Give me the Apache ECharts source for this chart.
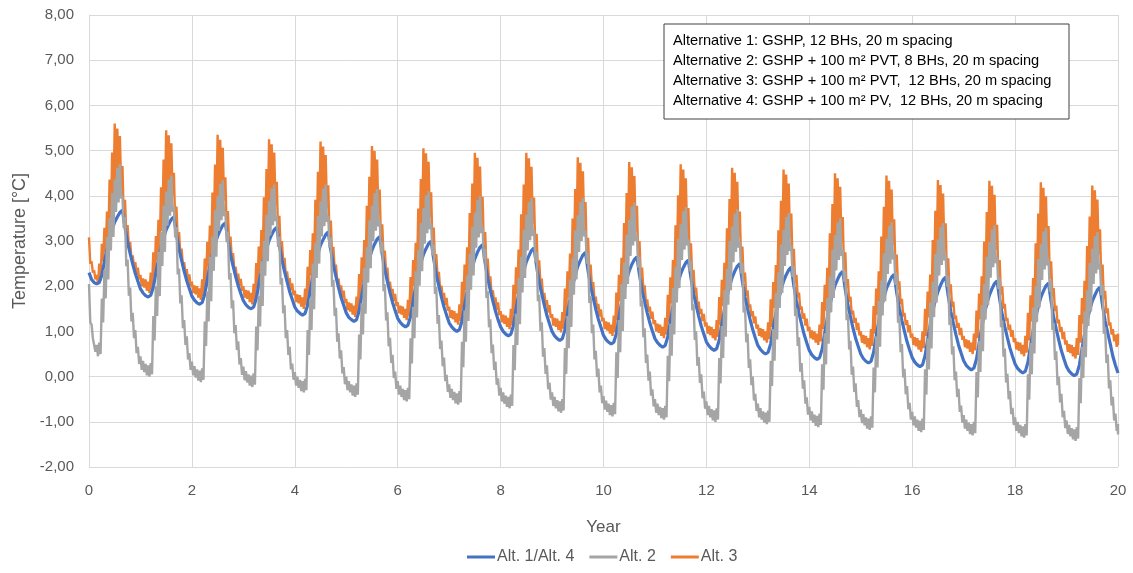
<!DOCTYPE html>
<html>
<head>
<meta charset="utf-8">
<title>Borehole fluid temperature, 20 years</title>
<script src="https://cdn.jsdelivr.net/npm/echarts@6/dist/echarts.min.js"></script>
<style>
  html, body { margin: 0; padding: 0; background: #ffffff; }
  #chart { width: 1133px; height: 573px; }
</style>
</head>
<body>
<div id="chart"></div>
<script>
// Sampling step along the time axis (years); 20 samples per simulated year.
const STEP = 0.05;

// Year axis ticks
const yearTicks = [0, 2, 4, 6, 8, 10, 12, 14, 16, 18, 20];

// Series names
const seriesNames = ['Alt. 1/Alt. 4', 'Alt. 2', 'Alt. 3'];

// Alt. 1/Alt. 4 temperature [°C], one row per year
const alt14Years = [
  [2.30,2.15,2.08,2.05,2.08,2.25,2.54,2.82,3.06,3.26,3.42,3.53,3.63,3.68,3.30,2.97,2.72,2.49,2.28,2.11],
  [1.94,1.85,1.79,1.76,1.80,1.97,2.29,2.59,2.86,3.07,3.25,3.37,3.48,3.53,3.14,2.82,2.57,2.33,2.12,1.95],
  [1.78,1.69,1.63,1.60,1.64,1.82,2.14,2.45,2.72,2.93,3.11,3.24,3.35,3.40,3.02,2.70,2.45,2.22,2.01,1.84],
  [1.68,1.59,1.53,1.50,1.54,1.72,2.04,2.35,2.62,2.83,3.01,3.14,3.25,3.30,2.91,2.58,2.33,2.10,1.88,1.71],
  [1.54,1.45,1.40,1.36,1.40,1.58,1.91,2.22,2.50,2.72,2.91,3.03,3.14,3.20,2.80,2.47,2.21,1.97,1.75,1.58],
  [1.41,1.31,1.26,1.22,1.26,1.45,1.78,2.10,2.39,2.61,2.80,2.93,3.04,3.10,2.70,2.36,2.10,1.86,1.64,1.46],
  [1.29,1.20,1.14,1.10,1.14,1.33,1.67,1.99,2.28,2.51,2.70,2.83,2.94,3.00,2.60,2.26,2.00,1.76,1.54,1.36],
  [1.19,1.10,1.04,1.00,1.04,1.23,1.58,1.90,2.19,2.42,2.61,2.75,2.86,2.92,2.52,2.17,1.91,1.67,1.45,1.26],
  [1.10,1.00,0.94,0.90,0.94,1.13,1.49,1.82,2.11,2.34,2.54,2.67,2.79,2.85,2.44,2.09,1.83,1.58,1.35,1.17],
  [1.00,0.90,0.84,0.80,0.84,1.03,1.39,1.72,2.01,2.24,2.44,2.57,2.69,2.75,2.34,2.00,1.74,1.49,1.27,1.09],
  [0.91,0.82,0.76,0.72,0.76,0.95,1.30,1.63,1.92,2.15,2.34,2.48,2.59,2.65,2.25,1.91,1.65,1.41,1.19,1.01],
  [0.84,0.75,0.69,0.65,0.69,0.88,1.23,1.56,1.85,2.08,2.27,2.41,2.52,2.58,2.18,1.84,1.58,1.34,1.12,0.94],
  [0.77,0.68,0.62,0.58,0.62,0.81,1.16,1.48,1.77,2.00,2.19,2.33,2.44,2.50,2.10,1.76,1.50,1.26,1.04,0.86],
  [0.69,0.60,0.54,0.50,0.54,0.73,1.08,1.40,1.69,1.92,2.11,2.25,2.36,2.42,2.01,1.67,1.40,1.16,0.93,0.75],
  [0.58,0.48,0.42,0.38,0.42,0.61,0.97,1.30,1.59,1.82,2.02,2.15,2.27,2.33,1.92,1.58,1.32,1.07,0.85,0.67],
  [0.50,0.40,0.34,0.30,0.34,0.54,0.89,1.22,1.52,1.75,1.95,2.08,2.20,2.26,1.85,1.51,1.24,1.00,0.77,0.59],
  [0.42,0.32,0.26,0.22,0.26,0.46,0.81,1.15,1.45,1.69,1.88,2.02,2.14,2.20,1.79,1.44,1.18,0.93,0.70,0.52],
  [0.35,0.25,0.19,0.15,0.19,0.39,0.74,1.08,1.37,1.61,1.80,1.94,2.06,2.12,1.71,1.37,1.10,0.86,0.63,0.45],
  [0.28,0.18,0.12,0.08,0.12,0.32,0.68,1.02,1.31,1.55,1.75,1.89,2.01,2.07,1.66,1.31,1.05,0.80,0.57,0.39],
  [0.22,0.12,0.06,0.02,0.06,0.26,0.61,0.94,1.24,1.47,1.67,1.80,1.92,1.98,1.57,1.23,0.97,0.72,0.45,0.25]
];
const alt14End = 0.08;

// Alt. 2 temperature [°C]: upper and lower edge of the short-term swings, one row per year
const alt2Upper = [
  [2.05,1.15,0.85,0.70,0.75,1.73,2.36,3.09,3.51,4.06,4.36,4.62,4.70,4.00,3.53,2.59,1.97,1.41,1.03,0.66],
  [0.45,0.35,0.28,0.25,0.30,1.34,2.00,2.76,3.20,3.78,4.09,4.36,4.45,3.76,3.31,2.39,1.80,1.25,0.89,0.52],
  [0.33,0.23,0.16,0.13,0.18,1.22,1.89,2.65,3.10,3.68,3.99,4.26,4.35,3.66,3.21,2.29,1.69,1.14,0.78,0.41],
  [0.22,0.12,0.05,0.02,0.07,1.11,1.79,2.55,3.00,3.58,3.89,4.16,4.25,3.56,3.10,2.18,1.58,1.03,0.66,0.29],
  [0.10,0.00,-0.07,-0.10,-0.05,1.03,1.72,2.50,2.96,3.56,3.88,4.16,4.25,3.55,3.08,2.14,1.52,0.96,0.58,0.21],
  [0.00,-0.10,-0.17,-0.20,-0.15,0.93,1.62,2.40,2.86,3.46,3.78,4.06,4.15,3.45,2.98,2.04,1.42,0.86,0.48,0.11],
  [-0.10,-0.20,-0.27,-0.30,-0.25,0.85,1.54,2.33,2.80,3.40,3.73,4.01,4.10,3.39,2.92,1.98,1.36,0.80,0.42,0.04],
  [-0.17,-0.27,-0.34,-0.37,-0.32,0.77,1.46,2.24,2.71,3.31,3.63,3.91,4.00,3.30,2.83,1.89,1.27,0.71,0.33,-0.04],
  [-0.25,-0.35,-0.42,-0.45,-0.40,0.70,1.39,2.18,2.65,3.25,3.58,3.86,3.95,3.24,2.76,1.81,1.20,0.63,0.25,-0.13],
  [-0.35,-0.45,-0.52,-0.55,-0.50,0.63,1.34,2.15,2.62,3.24,3.57,3.86,3.95,3.23,2.74,1.78,1.15,0.57,0.18,-0.20],
  [-0.43,-0.53,-0.60,-0.63,-0.58,0.54,1.25,2.05,2.53,3.14,3.47,3.76,3.85,3.13,2.65,1.69,1.07,0.49,0.11,-0.28],
  [-0.50,-0.60,-0.67,-0.70,-0.65,0.46,1.17,1.96,2.43,3.05,3.37,3.66,3.75,3.04,2.56,1.61,1.00,0.43,0.05,-0.33],
  [-0.55,-0.65,-0.72,-0.75,-0.70,0.41,1.12,1.91,2.38,3.00,3.32,3.61,3.70,2.99,2.51,1.56,0.95,0.38,0.00,-0.38],
  [-0.60,-0.70,-0.77,-0.80,-0.75,0.35,1.05,1.85,2.31,2.92,3.25,3.53,3.62,2.91,2.44,1.49,0.87,0.30,-0.08,-0.46],
  [-0.67,-0.77,-0.84,-0.87,-0.82,0.27,0.96,1.74,2.21,2.81,3.13,3.41,3.50,2.80,2.33,1.39,0.79,0.22,-0.15,-0.52],
  [-0.73,-0.83,-0.90,-0.93,-0.88,0.20,0.89,1.67,2.13,2.73,3.05,3.33,3.42,2.72,2.26,1.33,0.72,0.17,-0.21,-0.58],
  [-0.78,-0.88,-0.95,-0.98,-0.93,0.16,0.85,1.64,2.10,2.71,3.03,3.31,3.40,2.70,2.23,1.29,0.67,0.11,-0.27,-0.64],
  [-0.85,-0.95,-1.02,-1.05,-1.00,0.10,0.79,1.58,2.05,2.65,2.98,3.26,3.35,2.65,2.18,1.24,0.62,0.06,-0.32,-0.69],
  [-0.90,-1.00,-1.07,-1.10,-1.05,0.05,0.74,1.53,2.00,2.60,2.93,3.21,3.30,2.59,2.12,1.18,0.56,0.00,-0.38,-0.76],
  [-0.97,-1.07,-1.14,-1.17,-1.12,-0.03,0.66,1.44,1.91,2.51,2.83,3.11,3.20,2.50,2.03,1.09,0.49,-0.08,-0.45,-0.82]
];
const alt2Lower = [
  [1.20,0.85,0.55,0.45,0.50,1.20,1.73,2.15,2.79,3.09,3.64,3.85,3.94,3.29,2.44,1.79,1.22,0.85,0.52,0.28],
  [0.15,0.10,0.03,0.00,0.05,0.80,1.34,1.78,2.45,2.76,3.34,3.56,3.65,3.08,2.26,1.62,1.07,0.70,0.38,0.15],
  [0.03,-0.02,-0.09,-0.12,-0.07,0.68,1.22,1.67,2.34,2.65,3.23,3.46,3.55,2.98,2.15,1.51,0.96,0.59,0.27,0.04],
  [-0.08,-0.13,-0.20,-0.23,-0.18,0.58,1.11,1.56,2.23,2.55,3.13,3.35,3.44,2.87,2.04,1.40,0.85,0.48,0.16,-0.07],
  [-0.20,-0.25,-0.32,-0.35,-0.30,0.48,1.03,1.49,2.18,2.50,3.10,3.33,3.42,2.84,1.99,1.34,0.77,0.40,0.07,-0.17],
  [-0.30,-0.35,-0.42,-0.45,-0.40,0.38,0.93,1.39,2.08,2.40,3.00,3.23,3.32,2.74,1.89,1.24,0.67,0.30,-0.03,-0.27],
  [-0.40,-0.45,-0.52,-0.55,-0.50,0.29,0.85,1.31,2.01,2.33,2.94,3.17,3.26,2.68,1.83,1.17,0.61,0.23,-0.10,-0.34],
  [-0.47,-0.52,-0.59,-0.62,-0.57,0.21,0.77,1.23,1.92,2.24,2.85,3.08,3.17,2.59,1.74,1.09,0.52,0.15,-0.18,-0.42],
  [-0.55,-0.60,-0.67,-0.70,-0.65,0.14,0.70,1.16,1.86,2.18,2.79,3.02,3.11,2.53,1.67,1.01,0.44,0.06,-0.28,-0.51],
  [-0.65,-0.70,-0.77,-0.80,-0.75,0.06,0.63,1.10,1.81,2.15,2.76,3.00,3.10,2.50,1.63,0.96,0.38,-0.01,-0.35,-0.59],
  [-0.73,-0.78,-0.85,-0.88,-0.83,-0.03,0.54,1.01,1.72,2.05,2.67,2.90,3.00,2.41,1.55,0.87,0.30,-0.09,-0.42,-0.66],
  [-0.80,-0.85,-0.92,-0.95,-0.90,-0.10,0.46,0.93,1.64,1.96,2.58,2.81,2.90,2.33,1.47,0.81,0.24,-0.14,-0.48,-0.71],
  [-0.85,-0.90,-0.97,-1.00,-0.95,-0.15,0.41,0.88,1.59,1.91,2.53,2.76,2.85,2.28,1.42,0.76,0.19,-0.19,-0.53,-0.76],
  [-0.90,-0.95,-1.02,-1.05,-1.00,-0.21,0.35,0.82,1.52,1.85,2.45,2.69,2.78,2.20,1.34,0.68,0.11,-0.27,-0.60,-0.84],
  [-0.97,-1.02,-1.09,-1.12,-1.07,-0.29,0.27,0.73,1.42,1.74,2.35,2.58,2.67,2.10,1.25,0.60,0.04,-0.34,-0.67,-0.90],
  [-1.03,-1.08,-1.15,-1.18,-1.13,-0.35,0.20,0.66,1.35,1.67,2.27,2.50,2.59,2.03,1.19,0.54,-0.02,-0.39,-0.72,-0.95],
  [-1.08,-1.13,-1.20,-1.23,-1.18,-0.40,0.16,0.62,1.32,1.64,2.24,2.47,2.57,1.99,1.14,0.49,-0.08,-0.45,-0.78,-1.02],
  [-1.15,-1.20,-1.27,-1.30,-1.25,-0.46,0.10,0.56,1.26,1.58,2.19,2.42,2.51,1.94,1.09,0.44,-0.13,-0.50,-0.83,-1.07],
  [-1.20,-1.25,-1.32,-1.35,-1.30,-0.51,0.05,0.51,1.21,1.53,2.14,2.37,2.46,1.88,1.03,0.37,-0.19,-0.57,-0.90,-1.14],
  [-1.27,-1.32,-1.39,-1.42,-1.37,-0.59,-0.03,0.43,1.12,1.44,2.05,2.28,2.37,1.80,0.95,0.30,-0.26,-0.64,-0.97,-1.20]
];
const alt2End = [-1.05, -1.28];

// Alt. 3 temperature [°C]: upper and lower edge of the short-term swings, one row per year
const alt3Upper = [
  [3.08,2.55,2.35,2.25,2.50,2.94,3.29,3.65,4.36,4.96,5.60,5.49,5.32,4.66,3.91,3.35,2.98,2.68,2.53,2.41],
  [2.25,2.17,2.15,2.10,2.30,2.75,3.11,3.47,4.19,4.80,5.45,5.34,5.16,4.51,3.76,3.20,2.83,2.53,2.38,2.26],
  [2.10,2.02,2.00,1.95,2.15,2.61,2.98,3.34,4.07,4.69,5.35,5.24,5.06,4.41,3.66,3.10,2.73,2.43,2.28,2.16],
  [2.00,1.92,1.90,1.85,2.05,2.51,2.88,3.24,3.97,4.59,5.25,5.14,4.96,4.31,3.56,3.00,2.63,2.33,2.18,2.06],
  [1.90,1.82,1.80,1.75,1.95,2.43,2.80,3.17,3.91,4.53,5.20,5.09,4.90,4.23,3.45,2.87,2.48,2.17,2.02,1.90],
  [1.72,1.64,1.62,1.57,1.77,2.27,2.64,3.02,3.78,4.42,5.10,4.99,4.80,4.14,3.37,2.79,2.41,2.10,1.94,1.83],
  [1.65,1.57,1.55,1.50,1.70,2.20,2.58,2.96,3.72,4.37,5.05,4.94,4.75,4.08,3.30,2.71,2.32,2.01,1.85,1.74],
  [1.55,1.47,1.45,1.40,1.60,2.10,2.48,2.86,3.62,4.27,4.95,4.84,4.65,3.98,3.20,2.61,2.22,1.91,1.75,1.64],
  [1.45,1.37,1.35,1.30,1.50,2.03,2.42,2.81,3.59,4.25,4.95,4.83,4.64,3.96,3.16,2.57,2.17,1.85,1.69,1.58],
  [1.38,1.30,1.28,1.23,1.43,1.95,2.33,2.72,3.50,4.15,4.85,4.73,4.54,3.86,3.07,2.48,2.09,1.77,1.61,1.49],
  [1.30,1.22,1.20,1.15,1.35,1.86,2.25,2.63,3.40,4.06,4.75,4.63,4.44,3.78,3.00,2.41,2.02,1.71,1.55,1.44],
  [1.25,1.17,1.15,1.10,1.30,1.81,2.20,2.58,3.35,4.01,4.70,4.58,4.39,3.73,2.95,2.36,1.97,1.66,1.50,1.39],
  [1.20,1.12,1.10,1.05,1.25,1.76,2.14,2.52,3.28,3.93,4.62,4.51,4.31,3.65,2.88,2.30,1.91,1.60,1.45,1.33],
  [1.15,1.07,1.05,1.00,1.20,1.71,2.09,2.47,3.24,3.89,4.58,4.47,4.27,3.61,2.83,2.25,1.86,1.55,1.40,1.28],
  [1.10,1.02,1.00,0.95,1.15,1.65,2.03,2.41,3.17,3.82,4.50,4.39,4.20,3.53,2.75,2.16,1.77,1.46,1.30,1.19],
  [1.00,0.92,0.90,0.85,1.05,1.56,1.95,2.33,3.10,3.76,4.45,4.33,4.14,3.48,2.70,2.11,1.72,1.41,1.25,1.14],
  [0.95,0.87,0.85,0.80,1.00,1.50,1.88,2.26,3.02,3.67,4.35,4.24,4.05,3.39,2.62,2.04,1.66,1.35,1.19,1.08],
  [0.90,0.82,0.80,0.75,0.95,1.46,1.84,2.22,2.99,3.64,4.33,4.22,4.02,3.36,2.58,2.00,1.61,1.30,1.15,1.03],
  [0.85,0.77,0.75,0.70,0.90,1.41,1.80,2.18,2.95,3.61,4.30,4.18,3.99,3.33,2.55,1.96,1.57,1.26,1.10,0.99],
  [0.80,0.72,0.70,0.65,0.85,1.36,1.74,2.12,2.89,3.54,4.23,4.12,3.92,3.26,2.48,1.90,1.51,1.20,1.05,0.93]
];
const alt3Lower = [
  [2.50,2.30,2.15,2.05,2.12,2.55,2.76,2.94,3.40,3.83,4.25,4.46,4.18,3.54,3.16,2.86,2.60,2.41,2.26,2.15],
  [2.00,1.97,1.90,1.85,1.93,2.20,2.57,2.75,3.22,3.65,4.08,4.30,4.01,3.39,3.01,2.71,2.45,2.26,2.11,2.00],
  [1.85,1.82,1.75,1.70,1.78,2.05,2.43,2.61,3.09,3.53,3.96,4.18,3.89,3.29,2.91,2.61,2.35,2.16,2.01,1.90],
  [1.75,1.72,1.65,1.60,1.68,1.95,2.33,2.51,2.99,3.43,3.86,4.08,3.79,3.19,2.81,2.51,2.25,2.06,1.91,1.80],
  [1.65,1.62,1.55,1.50,1.58,1.85,2.24,2.43,2.91,3.35,3.79,4.02,3.72,3.07,2.68,2.37,2.10,1.90,1.75,1.63],
  [1.47,1.44,1.37,1.32,1.40,1.67,2.08,2.27,2.76,3.21,3.66,3.89,3.59,2.98,2.60,2.29,2.02,1.83,1.67,1.56],
  [1.40,1.37,1.30,1.25,1.33,1.60,2.01,2.20,2.69,3.15,3.61,3.83,3.53,2.91,2.52,2.20,1.93,1.74,1.58,1.46],
  [1.30,1.27,1.20,1.15,1.23,1.50,1.91,2.10,2.59,3.05,3.51,3.73,3.43,2.81,2.42,2.10,1.83,1.64,1.48,1.36],
  [1.20,1.17,1.10,1.05,1.13,1.40,1.83,2.03,2.53,3.00,3.47,3.70,3.39,2.77,2.37,2.05,1.77,1.58,1.42,1.30],
  [1.13,1.10,1.03,0.98,1.06,1.33,1.75,1.95,2.45,2.92,3.38,3.61,3.30,2.68,2.28,1.97,1.69,1.49,1.33,1.22],
  [1.05,1.02,0.95,0.90,0.98,1.25,1.67,1.86,2.36,2.83,3.29,3.52,3.21,2.61,2.22,1.90,1.63,1.44,1.28,1.16],
  [1.00,0.97,0.90,0.85,0.93,1.20,1.62,1.81,2.31,2.78,3.24,3.47,3.16,2.56,2.17,1.85,1.58,1.39,1.23,1.11],
  [0.95,0.92,0.85,0.80,0.88,1.15,1.56,1.76,2.25,2.71,3.17,3.40,3.09,2.49,2.10,1.79,1.52,1.33,1.18,1.06],
  [0.90,0.87,0.80,0.75,0.83,1.10,1.52,1.71,2.21,2.67,3.12,3.35,3.05,2.45,2.06,1.75,1.48,1.28,1.13,1.01],
  [0.85,0.82,0.75,0.70,0.78,1.05,1.46,1.65,2.14,2.60,3.06,3.28,2.98,2.36,1.97,1.65,1.38,1.19,1.03,0.91],
  [0.75,0.72,0.65,0.60,0.68,0.95,1.37,1.56,2.06,2.53,2.99,3.22,2.91,2.31,1.92,1.60,1.33,1.14,0.98,0.86],
  [0.70,0.67,0.60,0.55,0.63,0.90,1.31,1.50,1.99,2.45,2.91,3.13,2.83,2.23,1.85,1.54,1.27,1.08,0.92,0.81],
  [0.65,0.62,0.55,0.50,0.58,0.85,1.27,1.46,1.96,2.42,2.87,3.10,2.80,2.20,1.81,1.50,1.23,1.03,0.88,0.76],
  [0.60,0.57,0.50,0.45,0.53,0.80,1.22,1.41,1.91,2.38,2.84,3.07,2.76,2.16,1.77,1.45,1.18,0.99,0.83,0.71],
  [0.55,0.52,0.45,0.40,0.48,0.75,1.17,1.36,1.86,2.32,2.77,3.00,2.70,2.10,1.71,1.40,1.13,0.93,0.78,0.66]
];
const alt3End = [0.95, 0.70];

// Text of the description box
const boxLines = [
  'Alternative 1: GSHP, 12 BHs, 20 m spacing',
  'Alternative 2: GSHP + 100 m² PVT, 8 BHs, 20 m spacing',
  'Alternative 3: GSHP + 100 m² PVT,  12 BHs, 20 m spacing',
  'Alternative 4: GSHP + 100 m² PV,  12 BHs, 20 m spacing'
];

// Yearly rows -> [year, value] pairs on the shared time grid.
function toPairs(rows, endValue) {
  const flat = rows.flat().concat([endValue]);
  return flat.map((v, i) => [+(i * STEP).toFixed(3), v]);
}

// Upper/lower rows -> one jagged trace that swings between the two edges
// every half step, the way the hourly record does.
function toSwing(upperRows, lowerRows, endPair) {
  const up = upperRows.flat().concat([endPair[0]]);
  const lo = lowerRows.flat().concat([endPair[1]]);
  const out = [];
  const last = up.length - 1;
  for (let i = 0; i <= last; i++) {
    const t = i * STEP;
    out.push([+t.toFixed(3), up[i]]);
    out.push([+(i === last ? t : t + STEP / 2).toFixed(3), lo[i]]);
  }
  return out;
}

const FONT = '"Liberation Sans", Arial, sans-serif';
const TEXT_GREY = '#595959';
const GRID_GREY = '#d9d9d9';

const chart = echarts.init(document.getElementById('chart'), null, { renderer: 'canvas' });

const boxLeft = 664, boxTop = 24, boxW = 405, boxH = 95;

chart.setOption({
  animation: false,
  backgroundColor: '#ffffff',
  textStyle: { fontFamily: FONT },
  grid: { left: 89, right: 15, top: 15, bottom: 106, containLabel: false },
  xAxis: {
    type: 'value',
    min: yearTicks[0],
    max: yearTicks[yearTicks.length - 1],
    interval: 2,
    name: 'Year',
    nameLocation: 'middle',
    nameGap: 52,
    nameTextStyle: { color: TEXT_GREY, fontSize: 17, fontFamily: FONT },
    axisLine: { show: true, lineStyle: { color: GRID_GREY, width: 1 } },
    axisTick: { show: false },
    axisLabel: { color: TEXT_GREY, fontSize: 15, margin: 16, fontFamily: FONT },
    splitLine: { show: true, lineStyle: { color: GRID_GREY, width: 1 } }
  },
  yAxis: {
    type: 'value',
    min: -2,
    max: 8,
    interval: 1,
    name: 'Temperature [°C]',
    nameLocation: 'middle',
    nameGap: 57,
    nameTextStyle: { color: TEXT_GREY, fontSize: 18, fontFamily: FONT },
    axisLine: { show: true, lineStyle: { color: GRID_GREY, width: 1 } },
    axisTick: { show: false },
    axisLabel: {
      color: TEXT_GREY, fontSize: 15, margin: 15, fontFamily: FONT,
      formatter: v => v.toFixed(2).replace('.', ',')
    },
    splitLine: { show: true, lineStyle: { color: GRID_GREY, width: 1 } }
  },
  legend: {
    top: 549,
    left: 467,
    padding: 0,
    icon: 'rect',
    itemWidth: 28,
    itemHeight: 3,
    itemGap: 15,
    textStyle: { color: TEXT_GREY, fontSize: 16, fontFamily: FONT, padding: [0, 0, 0, -3] },
    data: seriesNames
  },
  graphic: [
    {
      type: 'rect',
      shape: { x: boxLeft, y: boxTop, width: boxW, height: boxH },
      style: { fill: '#ffffff', stroke: '#404040', lineWidth: 1 },
      z: 100
    }
  ].concat(boxLines.map((t, i) => ({
    type: 'text',
    x: boxLeft + 9,
    y: boxTop + 9 + i * 20,
    style: { text: t, fill: '#000000', font: '14.6px ' + FONT },
    z: 101
  }))),
  series: [
    {
      name: seriesNames[0],
      type: 'line',
      data: toPairs(alt14Years, alt14End),
      showSymbol: false,
      symbol: 'none',
      lineStyle: { color: '#4472C4', width: 3.2 },
      itemStyle: { color: '#4472C4' },
      z: 3
    },
    {
      name: seriesNames[1],
      type: 'line',
      data: toSwing(alt2Upper, alt2Lower, alt2End),
      showSymbol: false,
      symbol: 'none',
      lineStyle: { color: '#A5A5A5', width: 2.4 },
      itemStyle: { color: '#A5A5A5' },
      z: 4
    },
    {
      name: seriesNames[2],
      type: 'line',
      data: toSwing(alt3Upper, alt3Lower, alt3End),
      showSymbol: false,
      symbol: 'none',
      lineStyle: { color: '#ED7D31', width: 2.4 },
      itemStyle: { color: '#ED7D31' },
      z: 2
    }
  ]
});
</script>
</body>
</html>
